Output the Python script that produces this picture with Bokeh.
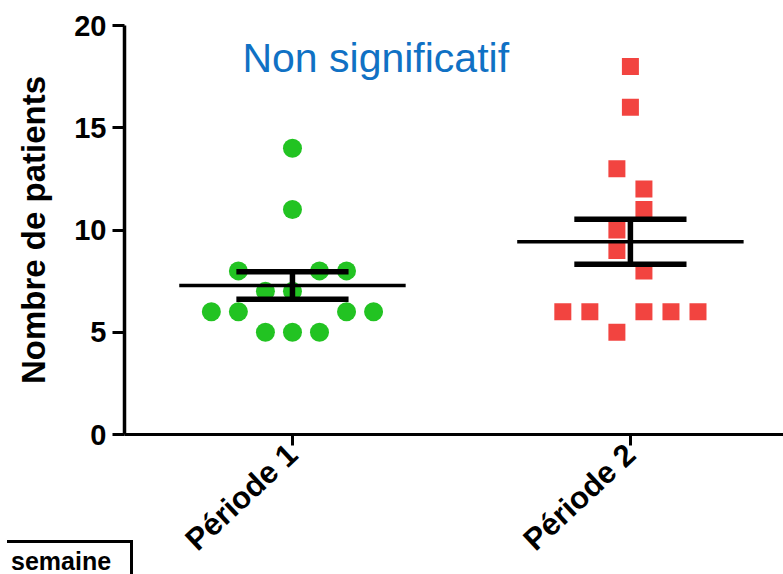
import numpy as np
from bokeh.plotting import figure
from bokeh.models import FixedTicker, Label, Range1d, Div
from bokeh.layouts import column
from bokeh.embed import file_html
from bokeh.resources import INLINE

# ---- data ----
categories = ["Période 1", "Période 2"]
values_p1 = [14, 11, 8, 8, 8, 7, 7, 6, 6, 6, 6, 5, 5, 5]
values_p2 = [18, 16, 13, 12, 11, 10, 9, 8, 6, 6, 6, 6, 6, 5]
y_ticks = [0, 5, 10, 15, 20]
annotation_text = "Non significatif"
y_label = "Nombre de patients"
corner_text = "semaine"

# ---- layout (scatter spread, in point-widths) ----
jitter_p1 = [0, 0, -2, 1, 2, -1, 0, -3, -2, 2, 3, -1, 0, 1]
jitter_p2 = [0, 0, -0.5, 0.5, 0.5, -0.5, -0.5, 0.5, -2.5, -1.5, 0.5, 1.5, 2.5, -0.5]
STEP = 0.08
MEAN_HALF = 0.335
SEM_HALF = 0.166
FONT = "Liberation Sans"
GREEN = "#22C322"
RED = "#F24440"

p = figure(width=783, height=574,
           x_range=Range1d(0.503, 2.453), y_range=Range1d(0, 20),
           output_backend="svg", toolbar_location=None,
           min_border_left=124, min_border_right=0,
           min_border_top=25, min_border_bottom=140)
p.outline_line_color = None
p.grid.visible = False
p.background_fill_color = "white"

pos = [1, 2]
x1 = [pos[0] + j * STEP for j in jitter_p1]
x2 = [pos[1] + j * STEP for j in jitter_p2]
p.scatter(x1, values_p1, marker="circle", size=19, fill_color=GREEN, line_color=None)
p.scatter(x2, values_p2, marker="square", size=17, fill_color=RED, line_color=None)

for c, vals in zip(pos, [values_p1, values_p2]):
    a = np.array(vals, dtype=float)
    m = a.mean()
    s = a.std(ddof=1) / np.sqrt(len(a))
    p.segment(x0=[c - MEAN_HALF], y0=[m], x1=[c + MEAN_HALF], y1=[m],
              line_color="black", line_width=3.5)
    p.segment(x0=[c - SEM_HALF, c - SEM_HALF], y0=[m + s, m - s],
              x1=[c + SEM_HALF, c + SEM_HALF], y1=[m + s, m - s],
              line_color="black", line_width=5.5)
    p.segment(x0=[c], y0=[m - s], x1=[c], y1=[m + s],
              line_color="black", line_width=5.5)

# axes
xa = p.xaxis[0]
xa.ticker = FixedTicker(ticks=pos)
xa.major_label_overrides = {pos[i]: categories[i] for i in range(2)}
xa.minor_tick_line_color = None
xa.major_tick_in = 0
xa.major_tick_out = 11
xa.major_tick_line_width = 3
xa.axis_line_width = 3
xa.major_label_orientation = 0.75
xa.major_label_text_font = FONT
xa.major_label_text_font_style = "bold"
xa.major_label_text_font_size = "31px"
xa.major_label_text_color = "black"
xa.major_label_standoff = 4

ya = p.yaxis[0]
ya.ticker = FixedTicker(ticks=y_ticks)
ya.minor_tick_line_color = None
ya.major_tick_in = 0
ya.major_tick_out = 12
ya.major_tick_line_width = 3
ya.axis_line_width = 3.5
ya.major_label_text_font = FONT
ya.major_label_text_font_style = "bold"
ya.major_label_text_font_size = "29px"
ya.major_label_text_color = "black"
ya.major_label_standoff = 6
ya.axis_label = y_label
ya.axis_label_text_font = FONT
ya.axis_label_text_font_style = "bold"
ya.axis_label_text_font_size = "33px"
ya.axis_label_text_color = "black"
ya.axis_label_standoff = 19

p.add_layout(Label(x=0.852, y=18.43, text=annotation_text, text_font=FONT,
                   text_font_size="41px", text_color="#1071C4",
                   text_align="left", text_baseline="alphabetic"))

corner = Div(text=corner_text, width=126, height=36,
             styles={"position": "absolute", "left": "2px", "top": "535px",
                     "box-sizing": "border-box",
                     "border-top": "3px solid black", "border-right": "3px solid black",
                     "padding": "4px 0px 0px 4px",
                     "font-family": "Liberation Sans", "font-weight": "bold",
                     "font-size": "25px", "line-height": "28px", "color": "black",
                     "background": "white"})

page = column(p, corner, spacing=0)
open("out.html", "w").write(file_html(page, INLINE))
